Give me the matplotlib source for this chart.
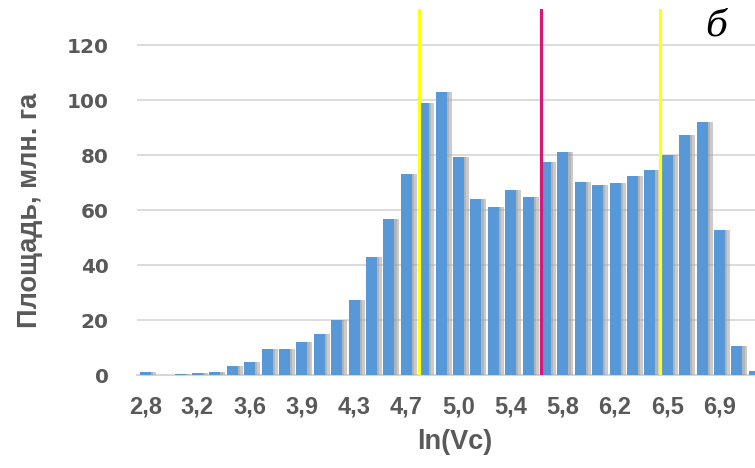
import numpy as np
import matplotlib
matplotlib.use("Agg")
import matplotlib.pyplot as plt

# площадь по классам ln(Vc), млн. га
area = [1, 0, 0.5, 0.8, 1.2, 3.3, 4.8, 9.3, 9.3, 11.9, 14.8, 20, 27.3, 43,
        56.6, 73.1, 99, 103, 79.3, 64, 61, 67.4, 64.6, 77.4, 81.2, 70.2,
        69, 69.9, 72.2, 74.7, 80.1, 87.4, 92, 52.7, 10.5, 1.5]
tick_labels = ['2,8', '3,2', '3,6', '3,9', '4,3', '4,7', '5,0', '5,4',
               '5,8', '6,2', '6,5', '6,9']
ln_first, ln_last = 2.8, 6.9           # ln(Vc) of first and last labelled bar
sd_lines = [4.754, 6.475]              # yellow lines
mean_line = 5.629                      # magenta line

grey = '#595959'
x = np.arange(len(area))
step = (ln_last - ln_first) / (3 * (len(tick_labels) - 1))

def to_idx(v):
    return (v - ln_first) / step

fig = plt.figure(figsize=(7.55, 4.68), dpi=100)
ax = fig.add_axes([0.1809, 0.1987, 0.8191, 0.782])

# soft shadow like in excel
ax.bar(x + 0.15, area, width=0.9, color='#a9a9a9', alpha=0.6, zorder=1)
ax.bar(x + 0.07, area, width=0.74, color='#8a8a8a', alpha=0.35, zorder=1.5)
ax.bar(x, area, width=0.63, color='#5799d8', zorder=2)

for v in sd_lines:
    ax.axvline(to_idx(v), color='#ffff10', lw=2.3, zorder=3)
ax.axvline(to_idx(mean_line), color='#d6177c', lw=2.3, zorder=3)

ax.set_xlim(-0.5, 35.04)
ax.set_ylim(0, 133.1)
ax.set_yticks(range(0, 121, 20))
ax.yaxis.grid(True, color='#d9d9d9', lw=1.3, zorder=0)
ax.set_axisbelow(True)
for s in ['top', 'right', 'left']:
    ax.spines[s].set_visible(False)
ax.spines['bottom'].set_color('#cfd6de')
ax.spines['bottom'].set_linewidth(1.5)
ax.spines['bottom'].set_zorder(0.5)

ax.set_xticks(x[::3])
ax.set_xticklabels(tick_labels, family='Liberation Sans', fontweight='bold',
                   fontsize=17, color=grey)
ax.tick_params(axis='x', length=0, pad=15)
ax.tick_params(axis='y', length=0, pad=20)
for t in ax.get_yticklabels():
    t.set_fontweight('bold')
    t.set_fontsize(14.4)
    t.set_color(grey)

fig.text(30 / 755, 1 - 210 / 468, 'Площадь, млн. га', rotation=90, ha='center',
         va='center', family='Liberation Sans', fontweight='bold', fontsize=19.5,
         color=grey)
fig.text(455 / 755, 1 - 442 / 468, 'ln(Vc)', ha='center', va='center',
         family='Liberation Sans', fontweight='bold', fontsize=19.5, color=grey)
fig.text(716 / 755, 1 - 25 / 468, 'б', ha='center', va='center',
         family='DejaVu Serif', style='italic', fontsize=26, color='black')

fig.savefig('out.png', dpi=100)
